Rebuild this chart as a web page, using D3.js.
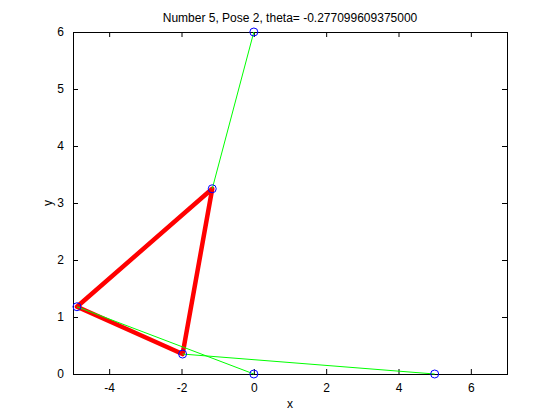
<!DOCTYPE html>
<html>
<head>
<meta charset="utf-8">
<script src="https://cdn.jsdelivr.net/npm/d3@7"></script>
<style>
  body { margin: 0; background: #fff; }
  svg text { font-family: "Liberation Sans", Arial, sans-serif; font-size: 12px; fill: #000; }
</style>
</head>
<body>
<svg id="chart" width="560" height="420"></svg>
<script>
// base anchor points and moving platform vertices
var baseX = [0, 5, 0];
var baseY = [0, 0, 6];
var platX = [-4.89, -1.97, -1.15];
var platY = [1.18, 0.35, 3.25];
// which platform vertex each leg goes to
var legTo = [0, 1, 2];

var xTicks = [-4, -2, 0, 2, 4, 6];
var yTicks = [0, 1, 2, 3, 4, 5, 6];
var title = "Number 5, Pose 2, theta= -0.277099609375000";

var mLeft = 73, mRight = 507, mTop = 32, mBottom = 374;

var svg = d3.select('#chart');

var x = d3.scaleLinear().domain([-5, 7]).range([mLeft, mRight]);
var y = d3.scaleLinear().domain([0, 6]).range([mBottom, mTop]);
var fmt = function(d){ return String(d); };

// axes (MATLAB box style, ticks pointing in)
svg.append('g')
  .attr('transform', 'translate(0,' + mBottom + ')')
  .call(d3.axisBottom(x).tickValues(xTicks).tickFormat(fmt).tickSize(-5).tickPadding(9).tickSizeOuter(0))
  .call(function(g){ g.select('.domain').remove(); });
svg.append('g')
  .attr('transform', 'translate(0,' + mTop + ')')
  .call(d3.axisTop(x).tickValues(xTicks).tickSize(-5).tickFormat('').tickSizeOuter(0))
  .call(function(g){ g.select('.domain').remove(); });
svg.append('g')
  .attr('transform', 'translate(' + mLeft + ',0)')
  .call(d3.axisLeft(y).tickValues(yTicks).tickFormat(fmt).tickSize(-5).tickPadding(9).tickSizeOuter(0))
  .call(function(g){ g.select('.domain').remove(); });
svg.append('g')
  .attr('transform', 'translate(' + mRight + ',0)')
  .call(d3.axisRight(y).tickValues(yTicks).tickSize(-5).tickFormat('').tickSizeOuter(0))
  .call(function(g){ g.select('.domain').remove(); });

svg.selectAll('.tick text').style('font-size', '12px').style('font-family', '"Liberation Sans", Arial, sans-serif');

svg.append('rect')
  .attr('x', mLeft + 0.5).attr('y', mTop + 0.5)
  .attr('width', mRight - mLeft).attr('height', mBottom - mTop)
  .attr('fill', 'none').attr('stroke', '#000').attr('stroke-width', 1);

// platform triangle
var tri = d3.range(3).map(function(i){ return [x(platX[i]), y(platY[i])]; });
svg.append('path')
  .attr('d', d3.line()(tri) + 'Z')
  .attr('fill', 'none')
  .attr('stroke', '#ff0000')
  .attr('stroke-width', 4.5)
  .attr('stroke-linejoin', 'round');

// legs
svg.selectAll('.leg')
  .data(d3.range(3)).enter()
  .append('line')
  .attr('class', 'leg')
  .attr('x1', function(i){ return x(baseX[i]); })
  .attr('y1', function(i){ return y(baseY[i]); })
  .attr('x2', function(i){ return x(platX[legTo[i]]); })
  .attr('y2', function(i){ return y(platY[legTo[i]]); })
  .attr('stroke', '#00ff00')
  .attr('stroke-width', 1);

// markers
var pts = baseX.map(function(v, i){ return [v, baseY[i]]; })
  .concat(platX.map(function(v, i){ return [v, platY[i]]; }));
svg.selectAll('.pt')
  .data(pts).enter()
  .append('circle')
  .attr('class', 'pt')
  .attr('cx', function(d){ return x(d[0]); })
  .attr('cy', function(d){ return y(d[1]); })
  .attr('r', 4)
  .attr('fill', 'none')
  .attr('stroke', '#0000ff')
  .attr('stroke-width', 1);

svg.append('text')
  .attr('x', (mLeft + mRight) / 2).attr('y', 22)
  .attr('text-anchor', 'middle')
  .text(title);
svg.append('text')
  .attr('x', (mLeft + mRight) / 2).attr('y', 408)
  .attr('text-anchor', 'middle')
  .text('x');
svg.append('text')
  .attr('transform', 'translate(52,' + (mTop + mBottom) / 2 + ') rotate(-90)')
  .attr('text-anchor', 'middle')
  .text('y');
</script>
</body>
</html>
